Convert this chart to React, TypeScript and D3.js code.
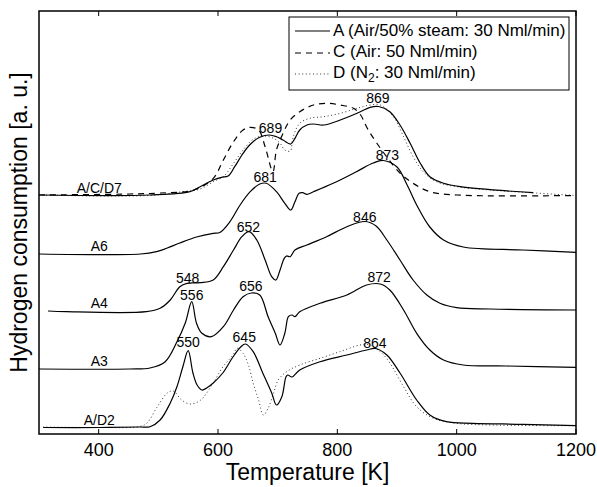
import React from 'react';
import * as d3 from 'd3';

const width = 597;
const height = 487;
const margin = { top: 11, right: 21, bottom: 53, left: 39 };

// temperature [K], hydrogen consumption [a. u.] (curves stacked with offsets)
const aD2: [number, number][] = [
  [307, 6.5], [402, 6.5], [469, 7], [486, 7.3], [503, 14], [520, 31], [531, 47], [541, 67],
  [550, 83.3], [558, 61], [565, 49], [573, 44], [581, 46], [592, 51], [608, 61], [625, 77],
  [638, 87], [646, 90], [659, 82.3], [675, 61], [690, 41], [698, 29], [707, 37.3], [714, 57.3],
  [717, 59], [724, 57], [737, 64], [771, 72.3], [816, 79], [849, 84], [864, 85.5], [883, 79],
  [905, 61], [933, 34], [955, 19], [983, 12.3], [1027, 10.7], [1111, 9.7], [1200, 8.3],
];
const dD2: [number, number][] = [
  [307, 7], [402, 6.5], [469, 7.5], [481, 11], [498, 27], [515, 41], [525, 43], [539, 34],
  [553, 30], [570, 33.5], [592, 51], [608, 67], [625, 79], [632, 85.7], [642, 80.7], [651, 69],
  [659, 50.7], [668, 34], [676, 19], [684, 25.7], [693, 40.7], [701, 54], [715, 62.3],
  [737, 69], [771, 75.7], [804, 82.3], [838, 89], [852, 89.5], [872, 82.3], [888, 71],
  [911, 47.3], [933, 27.3], [961, 15.7], [1000, 10.7], [1056, 9], [1200, 8.3],
];
const a3: [number, number][] = [
  [300, 65], [452, 65], [486, 66], [511, 72], [531, 92], [545, 110.7], [556, 132.3],
  [564, 110.7], [573, 100.7], [589, 97.3], [609, 107.3], [626, 124], [642, 137.3], [656, 141],
  [670, 139], [684, 117.3], [696, 100.7], [704, 89], [712, 100.7], [718, 117.3], [724, 119],
  [729, 117.3], [737, 122.3], [771, 130.7], [816, 139], [849, 149], [872, 150], [888, 144],
  [911, 124], [933, 100.7], [955, 84], [978, 74], [1011, 69], [1084, 68], [1200, 66.7],
];
const a4: [number, number][] = [
  [315, 123], [346, 122.3], [480, 122.3], [503, 125.7], [520, 134], [536, 147.3], [548, 150.7],
  [570, 151.3], [592, 154], [609, 167.3], [626, 184], [640, 197.3], [652, 202.3], [665, 194],
  [679, 174], [690, 157.3], [697, 154], [704, 164], [711, 175.7], [715, 178], [721, 177.3],
  [729, 184], [749, 189], [782, 197.3], [816, 207.3], [846, 212.5], [865, 208], [883, 194],
  [905, 174], [927, 154], [950, 139], [972, 130.7], [1000, 126.3], [1056, 125], [1200, 124],
];
const a6: [number, number][] = [
  [300, 180], [470, 180], [497, 182.3], [514, 185.7], [536, 191], [564, 197], [592, 200.7],
  [603, 201.5], [620, 212.3], [637, 229], [654, 242.3], [670, 250], [681, 250.7], [698, 242.3],
  [712, 230.7], [722, 224], [729, 232.3], [736, 240.7], [742, 241.3], [749, 239.7], [760, 242.3],
  [793, 250.7], [832, 262.3], [860, 271], [877, 273.5], [900, 267], [917, 249], [933, 229],
  [955, 207], [978, 194], [1011, 187], [1111, 184], [1200, 181.7],
];
const a7: [number, number][] = [
  [300, 239], [486, 239], [553, 242.3], [570, 247.3], [592, 254], [606, 256.7], [617, 258],
  [628, 267.3], [642, 280.7], [656, 290.7], [670, 296.7], [686, 299], [698, 297.3], [709, 294],
  [722, 290], [729, 295.7], [737, 304], [749, 309], [760, 310], [777, 309], [805, 314],
  [833, 320.7], [855, 326.7], [869, 327.5], [888, 322.3], [905, 309], [922, 290.7], [939, 270.7],
  [955, 257.3], [978, 250.7], [1006, 247.3], [1128, 241.3],
];
const c7: [number, number][] = [
  [300, 239], [452, 240], [503, 241], [559, 244], [592, 255.7], [609, 274], [626, 292.3],
  [642, 304], [654, 306.7], [668, 304], [679, 287.3], [692, 262.3], [698, 284], [709, 300.7],
  [721, 314], [737, 322.3], [760, 329], [782, 330.7], [805, 329], [827, 325.7], [839, 319],
  [850, 306], [866, 291], [883, 277], [905, 261], [927, 250.7], [955, 242.3], [1000, 239],
  [1200, 238.5],
];
const d7: [number, number][] = [
  [300, 239], [486, 238.5], [536, 242], [570, 245], [592, 252.3], [609, 257.3], [626, 270.7],
  [642, 284], [659, 294.7], [676, 298], [693, 295.7], [704, 290.7], [712, 284], [721, 283],
  [726, 297], [737, 310.7], [754, 315.7], [777, 317.3], [805, 320.7], [833, 325.7], [855, 329],
  [872, 329], [894, 317.3], [911, 297.3], [927, 277.3], [944, 262.3], [966, 252.3], [1000, 247.3],
  [1056, 244], [1123, 241.3], [1200, 238.5],
];

// annotations: text, temperature, level
const curveNames: [string, number, number][] = [
  ['A/C/D7', 401, 241], ['A6', 401, 183.3], ['A4', 401, 125.7], ['A3', 401, 68], ['A/D2', 401, 9],
];
const peakLabels: [string, number, number][] = [
  ['689', 688, 301.3], ['869', 868, 330.7], ['681', 679, 252.3], ['873', 884, 274],
  ['652', 651, 202.3], ['548', 549, 150.7], ['846', 846, 212.3], ['556', 556, 134],
  ['656', 655, 143.3], ['872', 870, 151.7], ['550', 550, 86.7], ['645', 644, 92.3],
  ['864', 863, 85.7],
];
const xTicks = [400, 600, 800, 1000, 1200];

const font = 'Liberation Sans, Arial, Helvetica, sans-serif';
const dashed = '6,5';
const dotted = '1,2.6';

const App = () => {
  const x = d3.scaleLinear().domain([300, 1200]).range([margin.left, width - margin.right]);
  const y = d3.scaleLinear().domain([0, 423]).range([height - margin.bottom, margin.top]);
  const line = d3.line<[number, number]>()
    .x(d => x(d[0]))
    .y(d => y(d[1]))
    .curve(d3.curveCatmullRom.alpha(0.5));

  const x0 = margin.left, x1 = width - margin.right;
  const y0 = margin.top, y1 = height - margin.bottom;

  const solid = { fill: 'none', stroke: '#000', strokeWidth: 1.2 };
  const dash = { ...solid, strokeDasharray: dashed };
  const dot = { fill: 'none', stroke: '#333', strokeWidth: 1, strokeDasharray: dotted };

  return (
    <svg width={width} height={height} style={{ position: 'absolute', left: 0, top: 0, background: '#fff' }}
      fontFamily={font}>
      <path d={line(dD2) ?? ''} {...dot} />
      <path d={line(aD2) ?? ''} {...solid} />
      <path d={line(a3) ?? ''} {...solid} />
      <path d={line(a4) ?? ''} {...solid} />
      <path d={line(a6) ?? ''} {...solid} />
      <path d={line(d7) ?? ''} {...dot} />
      <path d={line(c7) ?? ''} {...dash} />
      <path d={line(a7) ?? ''} {...solid} />

      {curveNames.map(([t, tx, v]) => (
        <text key={t} x={x(tx)} y={y(v)} textAnchor="middle" fontSize={14}>{t}</text>
      ))}
      {peakLabels.map(([t, tx, v]) => (
        <text key={t + tx} x={x(tx)} y={y(v)} textAnchor="middle" fontSize={14}>{t}</text>
      ))}

      {/* frame and ticks */}
      <rect x={x0} y={y0} width={x1 - x0} height={y1 - y0} fill="none" stroke="#000" strokeWidth={1.5} />
      {xTicks.map(t => (
        <g key={t}>
          <line x1={x(t)} x2={x(t)} y1={y1} y2={y1 - 5} stroke="#000" strokeWidth={1} />
          <line x1={x(t)} x2={x(t)} y1={y0} y2={y0 + 5} stroke="#000" strokeWidth={1} />
          <text x={x(t)} y={456} textAnchor="middle" fontSize={18}>{t}</text>
        </g>
      ))}
      <text x={(x0 + x1) / 2} y={480} textAnchor="middle" fontSize={23}>Temperature [K]</text>
      <text transform={`translate(27,${(y0 + y1) / 2}) rotate(-90)`} textAnchor="middle" fontSize={23}>
        Hydrogen consumption [a. u.]
      </text>

      {/* legend */}
      <g>
        <rect x={289} y={17} width={280} height={73} fill="#fff" stroke="#000" strokeWidth={1} />
        <line x1={295} x2={330} y1={31} y2={31} {...solid} />
        <line x1={295} x2={330} y1={53} y2={53} {...dash} />
        <line x1={295} x2={330} y1={74} y2={74} {...dot} />
        <text x={333} y={36} fontSize={17}>A (Air/50% steam: 30 Nml/min)</text>
        <text x={333} y={57} fontSize={17}>C (Air: 50 Nml/min)</text>
        <text x={333} y={78} fontSize={17}>
          D (N<tspan dy={4} fontSize={12}>2</tspan><tspan dy={-4}>: 30 Nml/min)</tspan>
        </text>
      </g>
    </svg>
  );
};

export default App;
